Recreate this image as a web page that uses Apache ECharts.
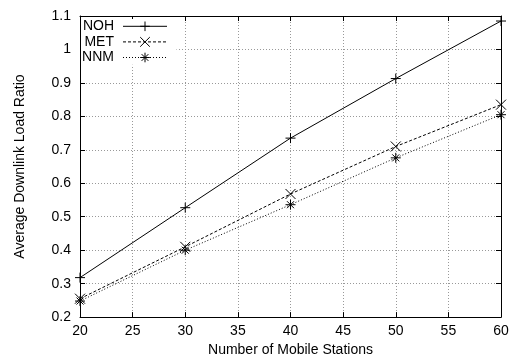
<!DOCTYPE html>
<html>
<head>
<meta charset="utf-8">
<script src="https://cdn.jsdelivr.net/npm/echarts@6/dist/echarts.min.js"></script>
<style>
  html, body { margin: 0; padding: 0; background: #fff; }
  #chart { width: 513px; height: 362px; }
</style>
</head>
<body>
<div id="chart"></div>
<script>
// Number of mobile stations (x positions)
var stations = [20, 30, 40, 50, 60];

// Average downlink load ratio per scheme
var noh = [0.318, 0.527, 0.735, 0.913, 1.085];
var met = [0.255, 0.410, 0.568, 0.710, 0.835];
var nnm = [0.248, 0.400, 0.536, 0.676, 0.805];

var seriesNames = ['NOH', 'MET', 'NNM'];
var yTicks = { min: 0.2, max: 1.1, step: 0.1 };
var xTicks = { min: 20, max: 60, step: 5 };

var FONT = '"Liberation Sans", Arial, Helvetica, sans-serif';
var FS = 14;

// stroked point markers: plus, cross, asterisk
var PLUS = 'path://M0,5L10,5M5,0L5,10';
var CROSS = 'path://M0,0L10,10M10,0L0,10';
var STAR = 'path://M0,5L10,5M5,0L5,10M1.5,1.5L8.5,8.5M8.5,1.5L1.5,8.5';

function pairs(xs, ys) {
  return xs.map(function (x, i) { return [x, ys[i]]; });
}

function makeSeries(name, values, symbol, dash) {
  return {
    name: name,
    type: 'line',
    data: pairs(stations, values),
    symbol: symbol,
    symbolSize: 10,
    showAllSymbol: true,
    animation: false,
    lineStyle: { color: '#000', width: 1, type: dash },
    itemStyle: { color: 'none', borderColor: '#000', borderWidth: 1 },
    emphasis: { disabled: true }
  };
}

var gridLine = { show: true, lineStyle: { color: '#999', width: 1, type: [1, 2] } };
var frame = { show: true, onZero: false, lineStyle: { color: '#000', width: 1 } };
var inTick = { show: true, inside: true, length: 5, lineStyle: { color: '#000', width: 1 } };

var chart = echarts.init(document.getElementById('chart'), null, { renderer: 'canvas' });
chart.setOption({
  backgroundColor: '#fff',
  textStyle: { fontFamily: FONT },
  grid: { left: 80, right: 12, top: 16, bottom: 43, containLabel: false },
  legend: {
    data: seriesNames,
    orient: 'vertical',
    align: 'right',
    left: 81,
    top: 19,
    padding: [0, 9, 0, 0],
    backgroundColor: '#fff',
    itemGap: 1,
    itemWidth: 44,
    itemHeight: 12,
    selectedMode: false,
    lineStyle: { width: 1 },
    itemStyle: { borderWidth: 1 },
    textStyle: { fontFamily: FONT, fontSize: FS, lineHeight: 14.5, color: '#000', width: 33, align: 'right', padding: [0, 4, 0, 0] }
  },
  xAxis: [{
    type: 'value',
    min: xTicks.min, max: xTicks.max, interval: xTicks.step,
    name: 'Number of Mobile Stations',
    nameLocation: 'middle',
    nameGap: 25,
    nameTextStyle: { fontFamily: FONT, fontSize: FS, color: '#000' },
    axisLine: frame,
    axisTick: inTick,
    axisLabel: { color: '#000', fontSize: FS, fontFamily: FONT, margin: 7 },
    splitLine: gridLine
  }, {
    type: 'value', position: 'top',
    min: xTicks.min, max: xTicks.max, interval: xTicks.step,
    axisLine: frame, axisTick: inTick,
    axisLabel: { show: false }, splitLine: { show: false }
  }],
  yAxis: [{
    type: 'value',
    min: yTicks.min, max: yTicks.max, interval: yTicks.step,
    name: 'Average Downlink Load Ratio',
    nameLocation: 'middle',
    nameGap: 53,
    nameTextStyle: { fontFamily: FONT, fontSize: FS, color: '#000' },
    axisLine: frame,
    axisTick: inTick,
    axisLabel: {
      color: '#000', fontSize: FS, fontFamily: FONT, margin: 9,
      formatter: function (v) { return String(parseFloat(v.toFixed(1))); }
    },
    splitLine: gridLine
  }, {
    type: 'value', position: 'right',
    min: yTicks.min, max: yTicks.max, interval: yTicks.step,
    axisLine: frame, axisTick: inTick,
    axisLabel: { show: false }, splitLine: { show: false }
  }],
  series: [
    makeSeries(seriesNames[0], noh, PLUS, 'solid'),
    makeSeries(seriesNames[1], met, CROSS, [3, 2]),
    makeSeries(seriesNames[2], nnm, STAR, [1, 2])
  ]
});
</script>
</body>
</html>
